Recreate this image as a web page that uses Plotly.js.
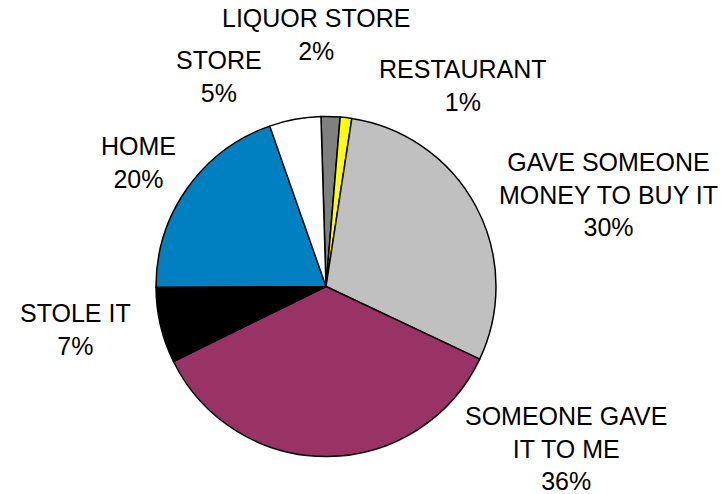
<!DOCTYPE html>
<html>
<head>
<meta charset="utf-8">
<script src="https://cdn.plot.ly/plotly-3.0.1.min.js"></script>
<style>html,body{margin:0;padding:0;background:#fff;}#chart{width:725px;height:494px;}</style>
</head>
<body>
<div id="chart"></div>
<script>
// Data (clockwise from 12 o'clock)
var categories = ["LIQUOR STORE", "RESTAURANT", "GAVE SOMEONE<br>MONEY TO BUY IT", "SOMEONE GAVE<br>IT TO ME", "STOLE IT", "HOME", "STORE"];
var values = [1.8, 1.1, 29.6, 35.7, 7.2, 19.7, 4.9];
var colors = ["#808080", "#FFFF00", "#C0C0C0", "#993366", "#000000", "#0080C0", "#FFFFFF"];

// Label block centres in pixels (layout only)
var labelPos = [[316, 35], [463, 86], [608, 194], [566, 448], [75, 329], [138, 162], [219, 76]];

var W = 725, H = 494;
var total = values.reduce(function(a, b){ return a + b; }, 0);

var trace = {
  type: "pie",
  values: values,
  labels: categories,
  marker: {colors: colors, line: {color: "#000000", width: 1.5}},
  sort: false,
  direction: "clockwise",
  rotation: -1.7,
  textinfo: "none",
  hoverinfo: "label+percent",
  showlegend: false,
  domain: {x: [(326 - 170) / W, (326 + 170) / W], y: [1 - 456.5 / H, 1 - 116.5 / H]}
};

var annotations = categories.map(function(c, i){
  return {
    xref: "paper", yref: "paper",
    x: labelPos[i][0] / W, y: 1 - labelPos[i][1] / H,
    xanchor: "center", yanchor: "middle",
    showarrow: false, align: "center",
    text: c + "<br>" + Math.round(values[i] / total * 100) + "%",
    font: {family: "Liberation Sans, Arial, sans-serif", size: 25, color: "#000000"}
  };
});

var layout = {
  width: W, height: H,
  margin: {l: 0, r: 0, t: 0, b: 0},
  paper_bgcolor: "#FFFFFF",
  plot_bgcolor: "#FFFFFF",
  annotations: annotations,
  font: {family: "Liberation Sans, Arial, sans-serif"}
};

Plotly.newPlot("chart", [trace], layout, {displayModeBar: false, staticPlot: true});
</script>
</body>
</html>
